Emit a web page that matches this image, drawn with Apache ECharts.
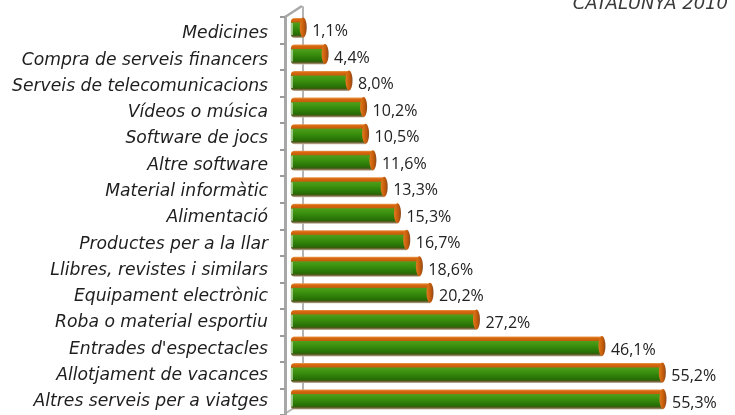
<!DOCTYPE html>
<html>
<head>
<meta charset="utf-8">
<script src="https://cdn.jsdelivr.net/npm/echarts@6/dist/echarts.min.js"></script>
<style>
html,body{margin:0;padding:0;background:#fff;}
#chart{width:735px;height:415px;}
</style>
</head>
<body>
<div id="chart"></div>
<script>
const categories = [
  "Medicines",
  "Compra de serveis financers",
  "Serveis de telecomunicacions",
  "Vídeos o música",
  "Software de jocs",
  "Altre software",
  "Material informàtic",
  "Alimentació",
  "Productes per a la llar",
  "Llibres, revistes i similars",
  "Equipament electrònic",
  "Roba o material esportiu",
  "Entrades d'espectacles",
  "Allotjament de vacances",
  "Altres serveis per a viatges"
];
const values = [1.1, 4.4, 8.0, 10.2, 10.5, 11.6, 13.3, 15.3, 16.7, 18.6, 20.2, 27.2, 46.1, 55.2, 55.3];
const titleText = "CATALUNYA 2010";

const fmt = v => v.toFixed(1).replace('.', ',') + '%';

const bodyGrad = new echarts.graphic.LinearGradient(0, 0, 0, 1, [
  {offset: 0, color: '#e99a50'},
  {offset: 0.08, color: '#d8680e'},
  {offset: 0.2, color: '#c65e0c'},
  {offset: 0.25, color: '#4e9c1a'},
  {offset: 0.45, color: '#3c920f'},
  {offset: 0.78, color: '#277106'},
  {offset: 0.87, color: '#375d0c'},
  {offset: 0.93, color: '#7c6a42'},
  {offset: 1, color: '#cabfac'}
]);
const capGrad = new echarts.graphic.LinearGradient(0, 0, 1, 0, [
  {offset: 0, color: '#e07a20'},
  {offset: 0.6, color: '#c45a08'},
  {offset: 1, color: '#8a4a20'}
]);

const chart = echarts.init(document.getElementById('chart'));
chart.setOption({
  animation: false,
  backgroundColor: '#ffffff',
  title: {
    text: titleText,
    right: 2,
    top: -10,
    textStyle: {fontFamily: 'DejaVu Sans', fontStyle: 'italic', fontWeight: 'normal', fontSize: 18, color: '#3a3a3a'}
  },
  grid: [
    {left: 297.9, right: 38.8, top: 14.7, bottom: 2.2},   // bars
    {left: 285, width: 1, top: 17, bottom: -4},           // front axis wall
    {left: 303, width: 1, top: 7, bottom: 12},            // back axis wall
    {left: 268, width: 1, top: 20.7, bottom: -4.3}        // category labels
  ],
  xAxis: [
    {gridIndex: 0, type: 'value', min: 0, max: 60, show: false},
    {gridIndex: 1, type: 'value', show: false},
    {gridIndex: 2, type: 'value', show: false},
    {gridIndex: 3, type: 'value', show: false}
  ],
  yAxis: [
    {gridIndex: 0, type: 'category', data: categories, inverse: true, show: false},
    {gridIndex: 1, type: 'category', data: categories, inverse: true,
      axisLine: {show: true, lineStyle: {color: '#a8a8a8', width: 3}},
      axisTick: {show: true, length: 5, lineStyle: {color: '#9a9a9a', width: 2}},
      axisLabel: {show: false}},
    {gridIndex: 2, type: 'category', data: categories, inverse: true,
      axisLine: {show: true, lineStyle: {color: '#b4b4b4', width: 2}},
      axisTick: {show: false}, axisLabel: {show: false}},
    {gridIndex: 3, type: 'category', data: categories, inverse: true,
      axisLine: {show: false}, axisTick: {show: false},
      axisLabel: {show: true, margin: 0, fontFamily: 'DejaVu Sans', fontStyle: 'italic', fontSize: 17.2, color: '#1e1e1e'}}
  ],
  graphic: [
    {type: 'line', shape: {x1: 285, y1: 17, x2: 302, y2: 6}, style: {stroke: '#a8a8a8', lineWidth: 2.5}, silent: true},
    {type: 'line', shape: {x1: 286, y1: 413, x2: 302, y2: 403}, style: {stroke: '#b4b4b4', lineWidth: 2}, silent: true}
  ],
  series: [
    {
      type: 'custom',
      xAxisIndex: 0, yAxisIndex: 0,
      data: values.map((v, i) => [v, i]),
      encode: {x: 0, y: 1},
      renderItem: function (params, api) {
        const v = api.value(0), i = api.value(1);
        const p0 = api.coord([0, i]);
        const p1 = api.coord([v, i]);
        const h = 20;
        const x0 = p0[0] - 7, x1 = p1[0], yc = p0[1];
        return {
          type: 'group',
          children: [
            {type: 'rect', shape: {x: x0, y: yc - h / 2, width: Math.max(x1 - 2 - x0, 2), height: h, r: [4, 0, 0, 4]},
              style: {fill: bodyGrad}},
            {type: 'rect', shape: {x: x0, y: yc - h / 2 + 5, width: 2, height: h - 8},
              style: {fill: 'rgba(190,215,175,0.8)'}},
            {type: 'ellipse', shape: {cx: x1 - 2, cy: yc - 0.5, rx: 3.5, ry: h / 2},
              style: {fill: capGrad}}
          ]
        };
      }
    },
    {
      type: 'bar',
      xAxisIndex: 0, yAxisIndex: 0,
      data: values,
      barWidth: 19,
      itemStyle: {color: 'rgba(0,0,0,0)'},
      silent: true,
      label: {
        show: true, position: 'right', distance: 7, offset: [0, 3.5],
        formatter: p => fmt(p.value),
        fontFamily: 'Open Sans', fontSize: 16, color: '#222222'
      }
    }
  ]
});
</script>
</body>
</html>
